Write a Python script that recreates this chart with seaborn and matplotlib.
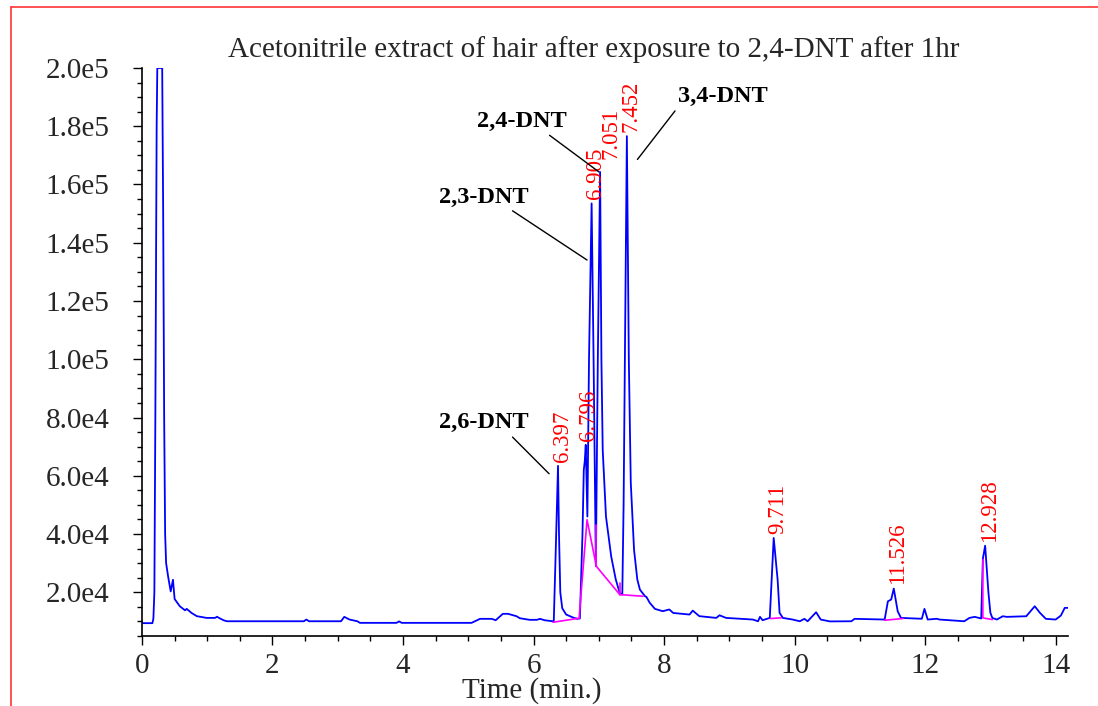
import numpy as np
import matplotlib
matplotlib.use('Agg')
import matplotlib.pyplot as plt
from matplotlib.lines import Line2D
from matplotlib.ticker import MultipleLocator, FuncFormatter
import seaborn as sns

# ─────────────────────────────────────────
# DATA
# ─────────────────────────────────────────
time_min = [
    0.00, 0.16, 0.175, 0.19, 0.205, 0.225, 0.235, 0.31, 0.325, 0.34, 0.355,
    0.37, 0.40, 0.44, 0.455, 0.475, 0.50, 0.58, 0.66, 0.685, 0.76, 0.84,
    0.99, 1.12, 1.15, 1.18, 1.25, 1.30, 2.48, 2.52, 2.56, 3.05, 3.10, 3.18,
    3.30, 3.34, 3.90, 3.94, 3.98, 5.05, 5.18, 5.36, 5.42, 5.53, 5.61, 5.74,
    5.79, 5.94, 6.05, 6.10, 6.17, 6.30,
    6.31, 6.335, 6.375, 6.39, 6.41, 6.44, 6.50, 6.62, 6.67, 6.71, 6.75, 6.77,
    6.785, 6.80, 6.825, 6.85, 6.89, 6.92, 6.955, 6.985, 7.02, 7.04, 7.06,
    7.11, 7.19, 7.26, 7.32, 7.36, 7.38, 7.43, 7.46, 7.49, 7.54, 7.59, 7.63,
    7.71, 7.73, 7.78, 7.86, 7.98, 8.08, 8.14, 8.39, 8.44, 8.54, 8.80, 8.85,
    8.95, 9.36, 9.44, 9.47, 9.51, 9.62, 9.68, 9.74, 9.77, 9.82, 9.97, 10.08,
    10.15, 10.20, 10.33, 10.40, 10.54, 10.87, 10.92, 11.38, 11.43, 11.48,
    11.52, 11.58, 11.63, 11.95, 11.99, 12.04, 12.18, 12.22, 12.60, 12.68,
    12.76, 12.86, 12.885, 12.92, 12.97, 13.00, 13.03, 13.10, 13.19, 13.25,
    13.55, 13.68, 13.76, 13.85, 14.00, 14.08, 14.14, 14.19,
]
intensity = [
    9400, 9400, 11000, 20000, 80000, 180000, 200000, 200000, 150000, 80000, 40000,
    30000, 25500, 20300, 22000, 24300, 17700, 15200, 13800, 14300, 12900, 11800,
    11200, 11200, 11600, 11200, 10400, 10050, 10050, 10640, 10050, 10050, 11560, 10640,
    10050, 9500, 9500, 10000, 9500, 9500, 10880, 10880, 10400, 12600, 12600, 11770,
    11090, 10540, 10540, 10880, 10400, 10000,
    10000, 30000, 63400, 40000, 20000, 14500, 12350, 11200, 10900, 11000, 40000, 62000,
    65000, 70600, 46000, 100000, 153500, 100000, 29000, 100000, 164300, 100000, 68900,
    46000, 32300, 24400, 19800, 19200, 50000, 176600, 100000, 57600, 34600, 24400, 20900,
    18600, 18400, 16400, 14300, 13500, 14100, 12900, 12350, 13700, 11800, 11200, 12100,
    11200, 10640, 10050, 11560, 10400, 11200, 38650, 24350, 12940, 11200, 10640, 10050,
    10880, 10050, 13150, 10640, 10000, 10050, 10880, 10640, 16900, 17500,
    21270, 13480, 11200, 10900, 14300, 10640, 10900, 10640, 10050, 11200,
    11560, 11000, 31500, 36000, 20000, 13000, 11200, 10640, 11770, 11560,
    11770, 15200, 12940, 10880, 10640, 12000, 14650, 14650,
]

# integration baselines (magenta), one list per segment
baseline_t = [
    [6.30, 6.698],
    [6.698, 6.82, 6.963, 7.321, 7.678],
    [6.963, 6.963],
    [7.321, 7.321],
    [9.629, 9.797],
    [11.38, 11.66],
    [12.885, 12.885, 13.03],
]
baseline_y = [
    [9710, 11090],
    [11090, 44900, 28900, 19210, 18630],
    [28900, 43200],
    [19210, 23200],
    [10980, 11220],
    [10400, 10980],
    [31200, 11200, 10640],
]

# retention time labels and the apex they sit on
rt_labels = ['6.397', '6.796', '6.905', '7.051', '7.452', '9.711', '11.526', '12.928']
rt_apex_t = [6.375, 6.785, 6.89, 7.02, 7.43, 9.68, 11.52, 12.92]
rt_apex_y = [63400, 70600, 153500, 164300, 176600, 38650, 21270, 36000]

# compound names with leader lines (text centre, line start, line end)
compounds = ['2,4-DNT', '2,3-DNT', '3,4-DNT', '2,6-DNT']
comp_text = [(5.82, 181700), (5.238, 155670), (8.899, 190300), (5.238, 78180)]
comp_line_from = [(6.245, 176900), (5.678, 150970), (8.168, 185260), (5.678, 73280)]
comp_line_to = [(7.003, 164300), (6.82, 134070), (7.592, 168600), (6.238, 60700)]

x_ticks = [0, 2, 4, 6, 8, 10, 12, 14]
y_ticks = [20000, 40000, 60000, 80000, 100000, 120000, 140000, 160000, 180000, 200000]


def sci_label(v, pos=None):
    e = int(np.floor(np.log10(v)))
    return f"{v / 10**e:.1f}e{e}"


sns.set_style('ticks')
plt.rcParams['font.family'] = ['Liberation Serif', 'DejaVu Serif']

fig, ax = plt.subplots(figsize=(10.98, 7.06), dpi=100)
fig.subplots_adjust(left=0.1293, right=0.9727, bottom=0.0992, top=0.9037)

sns.lineplot(x=time_min, y=intensity, ax=ax, color='#0000ff', lw=1.3,
             estimator=None, sort=False)
for bt, by in zip(baseline_t, baseline_y):
    sns.lineplot(x=bt, y=by, ax=ax, color='#ff00ff', lw=1.2,
                 estimator=None, sort=False)

# red retention times, rotated
for lab, t, y in zip(rt_labels, rt_apex_t, rt_apex_y):
    dx, dy = (8, 9) if lab == '7.051' else (3, 3)
    ax.annotate(lab, xy=(t, y), xytext=(dx, dy), textcoords='offset points',
                rotation=90, ha='center', va='bottom', color='#ff0000',
                fontsize=16.5)

# compound names
for name, tp, p0, p1 in zip(compounds, comp_text, comp_line_from, comp_line_to):
    ax.text(tp[0], tp[1], name, ha='center', va='center', fontsize=17.5,
            fontweight='bold', color='black')
    ax.annotate('', xy=p1, xytext=p0,
                arrowprops=dict(arrowstyle='-', color='black', lw=1.0,
                                shrinkA=0, shrinkB=0))

ax.set_xlim(0, 14.19)
ax.set_ylim(5000, 200000)
ax.set_xticks(x_ticks)
ax.set_yticks(y_ticks)
ax.xaxis.set_minor_locator(MultipleLocator(0.5))
ax.yaxis.set_minor_locator(MultipleLocator(5000))
ax.yaxis.set_major_formatter(FuncFormatter(sci_label))
ax.tick_params(which='major', length=6.5, width=1, labelsize=21, color='black')
ax.tick_params(which='minor', length=3.5, width=1, color='black')
ax.tick_params(axis='y', which='major', pad=17)
ax.tick_params(axis='x', which='major', pad=6)

sns.despine(ax=ax)
for s in ('left', 'bottom'):
    ax.spines[s].set_color('black')
    ax.spines[s].set_linewidth(1.2)

ax.set_xlabel('Time (min.)', fontsize=21)
ax.set_ylabel('')
ax.xaxis.set_label_coords(0.421, -0.072)

fig.text(594 / 1098, 1 - 50 / 706,
         'Acetonitrile extract of hair after exposure to 2,4-DNT after 1hr',
         ha='center', va='center', fontsize=21)

# red frame (top and left edges only are visible)
fig.add_artist(Line2D([0.010, 1.0], [0.990, 0.990], color='#ff3333', lw=1.2,
                      transform=fig.transFigure))
fig.add_artist(Line2D([0.010, 0.010], [0.0, 0.990], color='#ff3333', lw=1.2,
                      transform=fig.transFigure))

fig.savefig('out.png', dpi=100)
